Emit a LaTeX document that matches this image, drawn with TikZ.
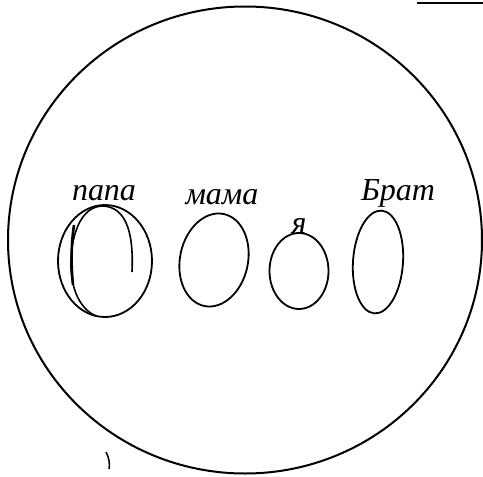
\documentclass[tikz,border=0pt]{standalone}
\usepackage{fontspec}
\setmainfont{Liberation Serif}
\usepackage{tikz}
\usetikzlibrary{shapes.geometric}

\begin{document}
\begin{tikzpicture}[
    x=1pt, y=-1pt,
    member/.style={draw, ellipse, inner sep=0pt, line width=1.8pt},
    memberlabel/.style={font=\fontsize{32}{34}\selectfont\itshape, inner sep=0pt}
  ]
    \useasboundingbox (0,0) rectangle (483,477);
    % family circle
    \node[draw, ellipse, line width=2pt, minimum width=474pt, minimum height=467pt, inner sep=0pt] (family) at (245,240) {};

    \node[member, minimum width=94pt, minimum height=112pt] (papa) at (105,261) {};
    \node[member, minimum width=68pt, minimum height=94pt, rotate=-12] (mama) at (214,260) {};
    \node[member, minimum width=59pt, minimum height=76pt] (ya) at (299,271) {};
    \node[member, minimum width=50pt, minimum height=103pt, rotate=-4] (brat) at (378,262) {};

    \node[memberlabel] (papalabel) at (104,193) {папа};
    \node[memberlabel] (mamalabel) at (222,197) {мама};
    \node[memberlabel] (yalabel) at (299,226) {я};
    \node[memberlabel] (bratlabel) at (398,193) {Брат};

    % second stroke of papa
    \draw[line width=1.6pt] (132,272) .. controls (134,228) and (124,208) .. (104,206)
      .. controls (80,205) and (70,238) .. (71,268) .. controls (72,293) and (82,310) .. (96,316);
    \draw[line width=2.6pt] (74,225) .. controls (71,245) and (71,265) .. (73,285);

    % scan marks
    \draw[line width=1.5pt] (417,3) -- (483,3);
    \draw[line width=1.5pt] (106,452) .. controls (109,458) and (110,463) .. (109,469);
  \end{tikzpicture}
\end{document}
